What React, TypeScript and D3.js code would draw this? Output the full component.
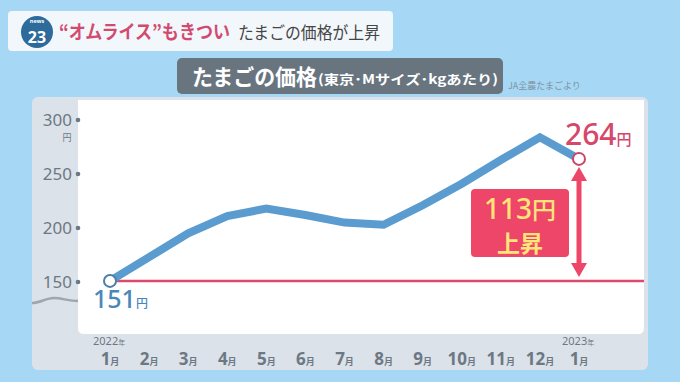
import React from "react";
import * as d3 from "d3";

const months = ["1", "2", "3", "4", "5", "6", "7", "8", "9", "10", "11", "12", "1"];
const prices = [151, 173, 195, 211, 218, 212, 205, 203, 221, 241, 263, 284, 264];
const yTicks = [150, 200, 250, 300];
const yearLabels = [
  { i: 0, label: "2022" },
  { i: 12, label: "2023" },
];
const startLabel = "151";
const endLabel = "264";
const riseLabel = "113";

const JP = "'Noto Sans CJK JP', 'Noto Sans', sans-serif";

export default function App() {
  const W = 680, H = 382;
  const x = d3.scaleLinear().domain([0, 12]).range([110, 579]);
  const y = d3.scaleLinear().domain([150, 300]).range([282, 120]);
  const line = d3.line<number>().x((_, i) => x(i)).y((d) => y(d));
  const base = prices[0];
  const last = prices[prices.length - 1];
  const ax = x(12);
  const aTop = y(last) + 8;
  const aBot = y(base) - 4;
  const arrowPath = `M${ax},${aTop} L${ax + 8},${aTop + 14} L${ax + 2.5},${aTop + 14} L${ax + 2.5},${aBot - 14} L${ax + 8},${aBot - 14} L${ax},${aBot} L${ax - 8},${aBot - 14} L${ax - 2.5},${aBot - 14} L${ax - 2.5},${aTop + 14} L${ax - 8},${aTop + 14} Z`;
  const grey = "#6c7883";
  return (
    <div style={{ position: "fixed", left: 0, top: 0, width: W, height: H }}>
      <svg width={W} height={H} style={{ display: "block" }} fontFamily={JP}>
        <rect x={0} y={0} width={W} height={H} fill="#a6d7f4" />
        {/* header */}
        <rect x={8} y={11} width={385} height={40} rx={4} fill="#f2f7fb" />
        <circle cx={37} cy={32} r={16} fill="#2c6b9b" />
        <text x={37} y={22.5} textAnchor="middle" fontSize={5.5} fontWeight={700} fill="#fff" fontFamily="'Open Sans', sans-serif">news</text>
        <text x={37} y={43} textAnchor="middle" fontSize={16} fontWeight={700} fill="#fff" fontFamily="'Open Sans', sans-serif">23</text>
        <text x={59} y={39} fontSize={19} fontWeight={700} fill="#d34a70" textLength={171} lengthAdjust="spacingAndGlyphs">“オムライス”もきつい</text>
        <text x={238} y={39} fontSize={16.5} fill="#454545" textLength={142} lengthAdjust="spacingAndGlyphs">たまごの価格が上昇</text>
        {/* title */}
        <rect x={177} y={58} width={326} height={36} rx={5} fill="#68757f" />
        <text x={192} y={85} fill="#fff" fontWeight={700} fontSize={22} textLength={125} lengthAdjust="spacingAndGlyphs">たまごの価格</text>
        <text x={318} y={84} fill="#fff" fontWeight={700} fontSize={13} textLength={180} lengthAdjust="spacingAndGlyphs">(東京･Mサイズ･kgあたり)</text>
        <text x={508} y={89} fontSize={9} fill="#7f93a3">JA全農たまごより</text>
        {/* panel */}
        <rect x={32} y={97} width={616} height={273} rx={6} fill="#dce2e9" />
        <path d="M78,100 H644 V328 Q644,334 638,334 H84 Q78,334 78,328 Z" fill="#ffffff" />
        <path d="M32,303 C40,303 46,298 54,298 C62,298 68,301 78,301" fill="none" stroke="#9ea6ae" strokeWidth={2.5} />
        {yTicks.map((t) => (
          <g key={t}>
            <text x={72} y={y(t) + 6} textAnchor="end" fontSize={17} fill={grey} fontFamily="'Noto Sans', sans-serif">{t}</text>
            <circle cx={78} cy={y(t)} r={2.3} fill={grey} />
          </g>
        ))}
        <text x={67} y={141} textAnchor="middle" fontSize={9} fill={grey}>円</text>
        {/* x labels */}
        {months.map((m, i) => (
          <text key={i} x={x(i)} y={365} textAnchor="middle" fill={grey} fontWeight={700}>
            <tspan fontSize={17} fontFamily="'Noto Sans', sans-serif">{m}</tspan>
            <tspan fontSize={9}>月</tspan>
          </text>
        ))}
        {yearLabels.map((d) => (
          <text key={d.label} x={x(d.i) - 17} y={345} fill={grey}>
            <tspan fontSize={11} fontFamily="'Noto Sans', sans-serif">{d.label}</tspan>
            <tspan fontSize={7}>年</tspan>
          </text>
        ))}
        {/* base line */}
        <line x1={x(0)} x2={644} y1={y(base)} y2={y(base)} stroke="#dc4a6d" strokeWidth={2.5} />
        {/* price line */}
        <path d={line(prices) || ""} fill="none" stroke="#5a9ccf" strokeWidth={8} strokeLinejoin="miter" />
        <circle cx={x(0)} cy={y(base)} r={6} fill="#fff" stroke="#4d7ea6" strokeWidth={2} />
        <circle cx={x(12)} cy={y(last)} r={6} fill="#fff" stroke="#c9486a" strokeWidth={2} />
        {/* arrow */}
        <path d={arrowPath} fill="#ee4668" />
        {/* labels */}
        <text x={93} y={308} fill="#4a87b8" fontWeight={500}>
          <tspan fontSize={25} fontFamily="'Noto Sans', sans-serif">{startLabel}</tspan>
          <tspan fontSize={12}>円</tspan>
        </text>
        <text x={565} y={145} fill="#d5476b" fontWeight={500}>
          <tspan fontSize={30} fontFamily="'Noto Sans', sans-serif">{endLabel}</tspan>
          <tspan fontSize={15}>円</tspan>
        </text>
        <rect x={471} y={189} width={98} height={68} rx={4} fill="#ee4668" />
        <text x={520} y={219} textAnchor="middle" fill="#ffe47a" fontWeight={500}>
          <tspan fontSize={28} fontFamily="'Noto Sans', sans-serif">{riseLabel}</tspan>
          <tspan fontSize={24}>円</tspan>
        </text>
        <text x={520} y={252} textAnchor="middle" fill="#ffe47a" fontSize={23} fontWeight={700}>上昇</text>
      </svg>
    </div>
  );
}
